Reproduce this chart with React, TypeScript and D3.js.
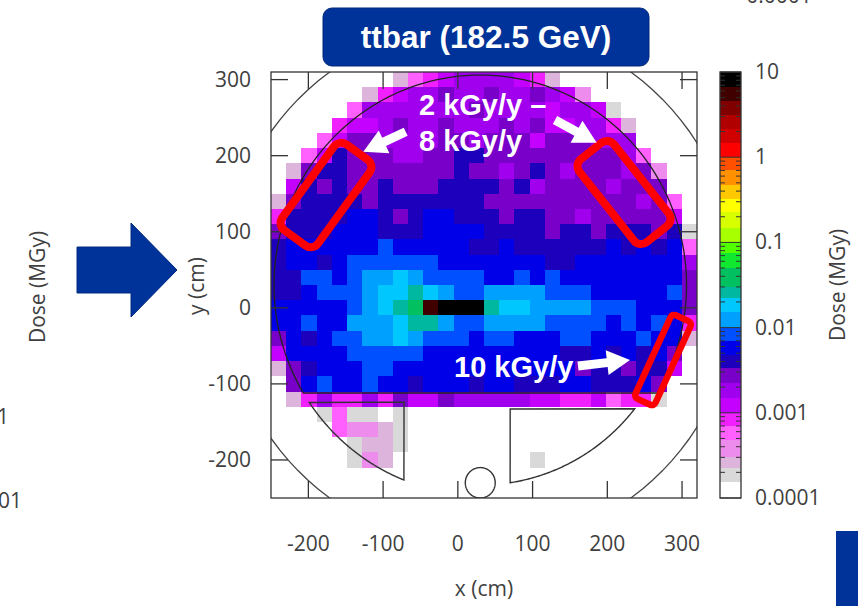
import React from 'react';
import * as d3 from 'd3';

// dose levels in MGy, one per palette band
const O = 0.00012, G = 0.00019, L = 0.00026, P = 0.0004, M = 0.0006, F = 0.00085, C = 0.0012, V = 0.0018, U = 0.0028;
const I = 0.004, B = 0.0056, N = 0.008, S = 0.012, Y = 0.018, T = 0.026, E = 0.04, R = 6, K = 8;

// heat map, top row first, left column first
const doseRows = [
  [O,O,O,O,O,O,O,O,L,M,F,C,V,V,V,V,C,F,L,O,O,O,O,O,O,O,O,O],
  [O,O,O,O,O,O,L,F,C,V,V,U,V,V,U,V,V,U,V,C,P,O,O,O,O,O,O,O],
  [O,O,O,O,O,M,V,V,V,V,V,V,V,U,V,V,V,V,C,V,V,C,G,O,O,O,O,O],
  [O,O,O,O,F,C,C,V,U,V,V,U,V,V,V,U,V,U,C,C,V,V,F,L,O,O,O,O],
  [O,O,O,M,C,U,U,V,V,V,V,U,U,V,U,U,U,C,U,U,U,V,V,V,O,O,O,O],
  [O,O,M,C,I,U,U,U,V,V,U,U,I,I,U,U,U,U,U,U,U,U,U,V,M,O,O,O],
  [O,L,U,I,I,U,U,U,U,U,U,U,I,U,U,V,U,I,U,V,U,U,U,V,U,P,O,O],
  [O,C,I,U,I,U,U,I,U,U,U,I,I,I,I,U,I,V,U,U,U,U,V,U,U,U,O,O],
  [L,U,I,I,I,I,U,I,I,I,I,I,I,I,U,U,U,U,U,U,U,U,U,U,V,U,M,O],
  [F,I,I,I,I,B,B,I,U,I,B,B,I,I,I,U,I,I,U,U,V,U,U,U,U,U,C,O],
  [U,I,I,I,B,B,B,I,I,I,B,B,B,B,I,I,I,I,U,I,I,U,I,I,I,U,I,G],
  [I,B,B,B,B,B,B,N,B,B,B,B,B,I,I,B,I,I,I,I,I,I,B,I,B,I,B,M],
  [I,B,B,I,B,N,N,N,N,N,N,B,B,B,B,B,B,B,I,I,B,B,B,B,B,B,B,V],
  [I,I,N,N,B,N,S,S,Y,S,N,N,N,N,B,B,N,B,N,B,B,B,B,B,B,B,B,U],
  [I,I,B,N,N,N,S,Y,Y,T,Y,S,N,N,S,S,S,S,N,N,N,B,B,B,B,B,N,U],
  [B,B,B,B,B,N,S,Y,T,E,R,K,K,K,T,Y,Y,S,S,S,S,N,N,N,B,B,B,U],
  [B,B,N,B,B,S,S,S,Y,T,T,S,N,N,S,S,S,S,N,N,N,N,B,N,B,N,B,F],
  [U,B,I,B,N,N,S,S,Y,S,N,N,N,B,N,N,B,B,B,N,N,B,B,B,N,B,B,L],
  [C,B,B,B,B,N,N,N,N,N,B,B,B,B,B,B,B,B,B,I,I,B,I,B,I,B,U,O],
  [L,U,I,B,B,B,N,N,B,B,B,B,B,B,B,B,B,B,B,B,U,I,I,U,I,I,C,O],
  [O,U,B,N,B,B,N,B,B,I,B,B,B,I,B,B,I,I,I,B,B,I,I,I,B,U,O,O],
  [O,L,F,V,F,F,V,F,U,C,C,U,V,V,V,V,V,C,C,F,F,C,M,F,F,G,O,O],
  [O,O,O,G,M,G,G,O,G,O,O,O,O,O,O,O,O,O,O,O,O,O,O,O,O,O,O,O],
  [O,O,O,O,M,P,P,L,G,O,O,O,O,O,O,O,O,O,O,O,O,O,O,O,O,O,O,O],
  [O,O,O,O,O,G,L,L,G,O,O,O,O,O,O,O,O,O,O,O,O,O,O,O,O,O,O,O],
  [O,O,O,O,O,G,P,L,O,O,O,O,O,O,O,O,O,G,O,O,O,O,O,O,O,O,O,O],
];

const bandEdges = [0.000155, 0.000225, 0.000303, 0.00048, 0.000706, 0.001, 0.00149, 0.00224, 0.00336, 0.00477, 0.00692, 0.01, 0.0152, 0.0222, 0.03, 0.05, 0.075, 0.1, 0.148, 0.225, 0.32, 0.47, 0.7, 1, 1.45, 2.15, 3.1, 4.6, 6.7];
const bandColors = ['#ffffff', '#d9d9d9', '#dcb4dc', '#ee8cee', '#ff60ff', '#f020ff', '#c400ff', '#a000ee', '#7800c8', '#1c00bc', '#0000e8', '#0050ff', '#00a0ff', '#00c8ff', '#00b8a0', '#00c060', '#10e830', '#50ff00', '#a8ff00', '#d8ff00', '#ffff00', '#ffc800', '#ff9000', '#ff5000', '#ff0000', '#d00000', '#b00000', '#800000', '#400000', '#000000'];

const xTicks = [-200, -100, 0, 100, 200, 300];
const yTicks = [-200, -100, 0, 100, 200, 300];
const doseTicks = [10, 1, 0.1, 0.01, 0.001, 0.0001];

const W = 858, H = 606;
const FRAME = { l: 271, r: 697, t: 72, b: 498 };
const BAR = { l: 720, r: 741 };
const INK = '#404040';
const SANS = '"Open Sans", "Noto Sans", sans-serif';
const BOLD = '"Liberation Sans", Arial, sans-serif';
const NAVY = '#003399';

const x = d3.scaleLinear().domain([-250, 320]).range([FRAME.l, FRAME.r]);
const y = d3.scaleLinear().domain([-250, 310]).range([FRAME.b, FRAME.t]);
const doseY = d3.scaleLog().domain([0.0001, 10]).range([FRAME.b, FRAME.t]);
const colorOf = d3.scaleThreshold<number, string>().domain(bandEdges).range(bandColors);
const colBand = d3.scaleBand<number>().domain(d3.range(28)).range([FRAME.l, FRAME.r]);
const rowBand = d3.scaleBand<number>().domain(d3.range(28)).range([FRAME.t, FRAME.b]);

const line = d3.line<number[]>().x(d => x(d[0])).y(d => y(d[1]));

// arc around the detector axis, in cm
const CX = 30, CY = 30;
function arc(r: number, from: number, to: number) {
  return d3.range(0, 121).map(i => {
    const t = from + ((to - from) * i) / 120;
    return [CX + r * Math.cos(t), CY + r * Math.sin(t)];
  });
}
const angle = (px: number, py: number) => Math.atan2(py - CY, px - CX);

const innerStart = Math.asin((-112 - CY) / 276);
const innerPath = line(arc(276, innerStart, Math.PI - innerStart))! + 'Z';
const outerPath = line(arc(345, 0, 2 * Math.PI))! + 'Z';
const leftSector = line([...arc(276, angle(-198, -124), angle(-72, -226)), [-72, -124]])! + 'Z';
const rightSector = line([...arc(263, angle(70, -230), angle(237, -133)), [70, -133]])! + 'Z';
const beamPipe = line(arc(20, 0, 2 * Math.PI).map(p => [p[0], p[1] - 260]))! + 'Z';

function arrowPoints(x0: number, y0: number, x1: number, y1: number, shaft: number, head: number, len: number) {
  const d = Math.hypot(x1 - x0, y1 - y0);
  const ux = (x1 - x0) / d, uy = (y1 - y0) / d;
  const nx = -uy, ny = ux;
  const bx = x1 - ux * len, by = y1 - uy * len;
  return [
    [x0 + (nx * shaft) / 2, y0 + (ny * shaft) / 2],
    [bx + (nx * shaft) / 2, by + (ny * shaft) / 2],
    [bx + (nx * head) / 2, by + (ny * head) / 2],
    [x1, y1],
    [bx - (nx * head) / 2, by - (ny * head) / 2],
    [bx - (nx * shaft) / 2, by - (ny * shaft) / 2],
    [x0 - (nx * shaft) / 2, y0 - (ny * shaft) / 2],
  ].map(p => p.join(',')).join(' ');
}

const minorTicks = d3.range(-4, 1).flatMap(e => d3.range(2, 10).map(m => m * Math.pow(10, e)));
const bandLimits = [0.0001, ...bandEdges, 10];

export default function App() {
  return (
    <svg width={W} height={H} style={{ position: 'absolute', left: 0, top: 0, display: 'block' }}>
      <rect width={W} height={H} fill="#fff" />
      <defs>
        <clipPath id="frame">
          <rect x={FRAME.l} y={FRAME.t} width={FRAME.r - FRAME.l} height={FRAME.b - FRAME.t} />
        </clipPath>
      </defs>

      {/* leftovers of the neighbouring slide panel */}
      <text x={779} y={3} textAnchor="middle" fontFamily={SANS} fontSize={21} fill={INK}>0.0001</text>
      <text transform="translate(45,287) rotate(-90)" textAnchor="middle" fontFamily={SANS} fontSize={21} fill={INK}>Dose (MGy)</text>
      <text x={9} y={424} textAnchor="end" fontFamily={SANS} fontSize={21} fill={INK}>1</text>
      <text x={22} y={508} textAnchor="end" fontFamily={SANS} fontSize={21} fill={INK}>01</text>
      <polygon points="77,247 131,247 131,223 177,270 131,317 131,293 77,293" fill={NAVY} stroke="#002a80" strokeWidth={1} />
      <rect x={836} y={531} width={22} height={75} fill={NAVY} />

      {/* title */}
      <rect x={323} y={8} width={326} height={58} rx={9} fill={NAVY} stroke="#00287a" strokeWidth={1} />
      <text x={486} y={48} textAnchor="middle" fontFamily={BOLD} fontWeight="bold" fontSize={31.5} fill="#fff">ttbar (182.5 GeV)</text>

      {/* heat map */}
      <g shapeRendering="crispEdges">
        {doseRows.map((row, r) =>
          row.map((v, c) =>
            v > bandEdges[0] ? (
              <rect key={`${r}-${c}`} x={colBand(c)} y={rowBand(r)} width={colBand.bandwidth()} height={rowBand.bandwidth()} fill={colorOf(v)} />
            ) : null
          )
        )}
      </g>

      {/* detector outline */}
      <g fill="none" clipPath="url(#frame)">
        <path d={outerPath} stroke="#444" strokeWidth={1.3} />
        <path d={innerPath} stroke="#222" strokeWidth={1.3} />
        <path d={leftSector} stroke="#333" strokeWidth={1.4} />
        <path d={rightSector} stroke="#333" strokeWidth={1.4} />
        <path d={beamPipe} stroke="#333" strokeWidth={1.4} />
      </g>

      {/* frame and ticks */}
      <g stroke="#333" strokeWidth={1.3}>
        {xTicks.map(t => (
          <g key={t}>
            <line x1={x(t)} x2={x(t)} y1={FRAME.b} y2={FRAME.b - 17} />
            <line x1={x(t)} x2={x(t)} y1={FRAME.t} y2={FRAME.t + 17} />
          </g>
        ))}
        {yTicks.map(t => (
          <g key={t}>
            <line x1={FRAME.l} x2={FRAME.l + 17} y1={y(t)} y2={y(t)} />
            <line x1={FRAME.r} x2={FRAME.r - 17} y1={y(t)} y2={y(t)} />
          </g>
        ))}
        <rect x={FRAME.l} y={FRAME.t} width={FRAME.r - FRAME.l} height={FRAME.b - FRAME.t} fill="none" />
      </g>

      <g fontFamily={SANS} fontSize={21} fill={INK}>
        {xTicks.map(t => (
          <text key={t} x={x(t)} y={551} textAnchor="middle">{t}</text>
        ))}
        {yTicks.map(t => (
          <text key={t} x={251} y={y(t) + 7} textAnchor="end">{t}</text>
        ))}
        <text x={484} y={596} textAnchor="middle">x (cm)</text>
        <text transform="translate(204,286) rotate(-90)" textAnchor="middle">y (cm)</text>
      </g>

      {/* colour bar */}
      <g shapeRendering="crispEdges">
        {bandColors.map((c, i) => (
          <rect key={c} x={BAR.l} y={doseY(bandLimits[i + 1])} width={BAR.r - BAR.l} height={doseY(bandLimits[i]) - doseY(bandLimits[i + 1])} fill={c} />
        ))}
      </g>
      <g stroke="#333" strokeWidth={1}>
        {minorTicks.map(t => (
          <g key={t}>
            <line x1={BAR.l} x2={BAR.l + 5} y1={doseY(t)} y2={doseY(t)} />
            <line x1={BAR.r} x2={BAR.r - 5} y1={doseY(t)} y2={doseY(t)} />
          </g>
        ))}
        {doseTicks.map(t => (
          <line key={t} x1={BAR.l} x2={BAR.r} y1={doseY(t)} y2={doseY(t)} />
        ))}
        <rect x={BAR.l} y={FRAME.t} width={BAR.r - BAR.l} height={FRAME.b - FRAME.t} fill="none" strokeWidth={1.3} />
      </g>
      <g fontFamily={SANS} fontSize={21} fill={INK}>
        {doseTicks.map(t => (
          <text key={t} x={755} y={doseY(t) + 7}>{t}</text>
        ))}
        <text transform="translate(845,285) rotate(-90)" textAnchor="middle">Dose (MGy)</text>
      </g>

      {/* slide annotations */}
      <g fill="none" stroke="#ff0000">
        <rect x={-22} y={-53} width={44} height={106} rx={9} strokeWidth={8} transform="translate(326,195) rotate(36)" />
        <rect x={-22} y={-53} width={44} height={106} rx={9} strokeWidth={8} transform="translate(624,192.5) rotate(-38.4)" />
        <rect x={-11} y={-46} width={22} height={92} rx={4} strokeWidth={6.5} transform="translate(663,360) rotate(24.6)" />
      </g>
      <g fill="#fff">
        <polygon points={arrowPoints(405.7, 131.7, 363.3, 151.7, 9, 25, 23)} />
        <polygon points={arrowPoints(555, 120, 596.7, 142.7, 9, 25, 23)} />
        <polygon points={arrowPoints(578, 366, 630, 360, 9, 25, 23)} />
      </g>
      <g fontFamily={BOLD} fontWeight="bold" fontSize={29} fill="#fff">
        <text x={419} y={115}>2 kGy/y –</text>
        <text x={419} y={151}>8 kGy/y</text>
        <text x={454} y={377}>10 kGy/y</text>
      </g>
    </svg>
  );
}
